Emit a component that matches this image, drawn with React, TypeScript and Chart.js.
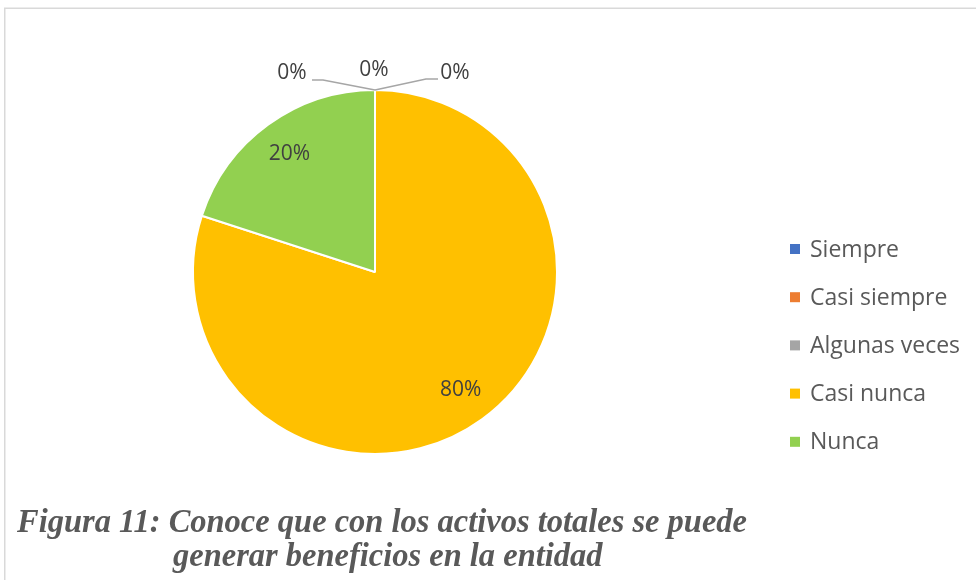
import React, { useEffect, useRef } from "react";
import { Chart, registerables } from "chart.js";

Chart.register(...registerables);

const categories = ["Siempre", "Casi siempre", "Algunas veces", "Casi nunca", "Nunca"];
const values = [0, 0, 0, 80, 20];
const percentLabels = ["0%", "0%", "0%", "80%", "20%"];
const colors = ["#4472C4", "#ED7D31", "#A5A5A5", "#FFC000", "#92D050"];
const captionLines = [
  "Figura 11: Conoce que con los activos totales se puede",
  "generar beneficios en la entidad",
];

const LABEL_FONT = '21px "Open Sans", "Liberation Sans", sans-serif';
const LEGEND_FONT = '23px "Open Sans", "Liberation Sans", sans-serif';
const CAPTION_FONT = 'italic bold 34px "Liberation Serif", "Times New Roman", serif';

const decorPlugin = {
  id: "decor",
  beforeDraw(chart: any) {
    const ctx = chart.ctx;
    ctx.save();
    ctx.fillStyle = "#ffffff";
    ctx.fillRect(0, 0, chart.width, chart.height);
    ctx.strokeStyle = "#d9d9d9";
    ctx.lineWidth = 1.5;
    ctx.strokeRect(4.75, 8.25, chart.width + 20, chart.height + 20);
    ctx.restore();
  },
  afterDatasetsDraw(chart: any) {
    const ctx = chart.ctx;
    const meta = chart.getDatasetMeta(0);
    const data = chart.data.datasets[0].data as number[];
    ctx.save();
    ctx.font = LABEL_FONT;
    ctx.fillStyle = "#404040";
    ctx.textAlign = "center";
    ctx.textBaseline = "middle";
    let zeroIdx = 0;
    const zeroOffsets = [
      { lx: -83, ly: -17, line: [[-52, -10], [-63, -10]] },
      { lx: -1, ly: -20, line: null },
      { lx: 80, ly: -17, line: [[51, -11], [63, -11]] },
    ];
    meta.data.forEach((arc: any, i: number) => {
      const p = arc.getProps(["x", "y", "startAngle", "endAngle", "outerRadius"], true);
      if (data[i] > 0) {
        const mid = (p.startAngle + p.endAngle) / 2;
        const r = p.outerRadius * 0.8;
        ctx.fillText(percentLabels[i], p.x + Math.cos(mid) * r, p.y + Math.sin(mid) * r);
      } else {
        const ox = p.x + Math.cos(p.startAngle) * p.outerRadius;
        const oy = p.y + Math.sin(p.startAngle) * p.outerRadius;
        const off = zeroOffsets[Math.min(zeroIdx, 2)];
        zeroIdx++;
        if (off.line) {
          ctx.save();
          ctx.strokeStyle = "#a6a6a6";
          ctx.lineWidth = 1.5;
          ctx.beginPath();
          ctx.moveTo(ox, oy);
          ctx.lineTo(ox + off.line[0][0], oy + off.line[0][1]);
          ctx.lineTo(ox + off.line[1][0], oy + off.line[1][1]);
          ctx.stroke();
          ctx.restore();
        }
        ctx.fillText(percentLabels[i], ox + off.lx, oy + off.ly);
      }
    });
    ctx.restore();
  },
  afterDraw(chart: any) {
    const ctx = chart.ctx;
    const labels = chart.data.labels as string[];
    const bg = chart.data.datasets[0].backgroundColor as string[];
    ctx.save();
    // legend
    ctx.font = LEGEND_FONT;
    ctx.textBaseline = "middle";
    ctx.textAlign = "left";
    labels.forEach((lab: string, i: number) => {
      const cy = 249 + i * 48.2;
      ctx.fillStyle = bg[i];
      ctx.fillRect(790, cy - 5, 10, 10);
      ctx.fillStyle = "#595959";
      ctx.fillText(lab, 810, cy + 1);
    });
    // caption
    ctx.font = CAPTION_FONT;
    ctx.fillStyle = "#595959";
    ctx.textBaseline = "alphabetic";
    const w = ctx.measureText(captionLines[0]).width;
    const k = 730 / w;
    const pos = [
      [17, 532],
      [173, 566],
    ];
    captionLines.forEach((line, i) => {
      ctx.save();
      ctx.translate(pos[i][0], pos[i][1]);
      ctx.scale(k, 1);
      ctx.fillText(line, 0, 0);
      ctx.restore();
    });
    ctx.restore();
  },
};

export default function App() {
  const ref = useRef<HTMLCanvasElement | null>(null);
  useEffect(() => {
    document.body.style.margin = "0";
    const canvas = ref.current;
    if (!canvas) return;
    const chart = new Chart(canvas, {
      type: "pie",
      data: {
        labels: categories,
        datasets: [
          {
            data: values,
            backgroundColor: colors,
            borderColor: "#ffffff",
            borderWidth: 2,
          },
        ],
      },
      options: {
        animation: false,
        responsive: false,
        devicePixelRatio: 1,
        layout: { padding: { left: 192, right: 418, top: 89, bottom: 125 } },
        plugins: {
          legend: { display: false },
          tooltip: { enabled: false },
        },
      },
      plugins: [decorPlugin],
    });
    return () => chart.destroy();
  }, []);
  return (
    <div style={{ width: 976, height: 580, position: "relative", overflow: "hidden" }}>
      <canvas ref={ref} width={976} height={580} style={{ display: "block" }} />
    </div>
  );
}
